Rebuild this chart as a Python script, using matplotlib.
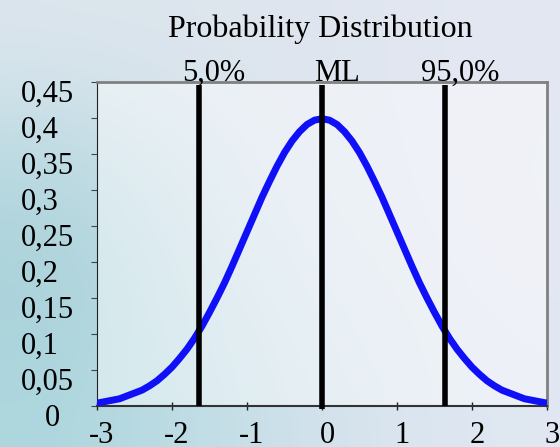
import numpy as np
import matplotlib.pyplot as plt
from matplotlib.transforms import ScaledTranslation

plt.rcParams['font.family'] = ['Liberation Serif', 'DejaVu Serif']

# values
x_vals = [-3.0, -2.9, -2.8, -2.7, -2.6, -2.5, -2.4, -2.3, -2.2, -2.1, -2.0, -1.9, -1.8, -1.7, -1.6,
          -1.5, -1.4, -1.3, -1.2, -1.1, -1.0, -0.9, -0.8, -0.7, -0.6, -0.5, -0.4, -0.3, -0.2, -0.1,
          0.0, 0.1, 0.2, 0.3, 0.4, 0.5, 0.6, 0.7, 0.8, 0.9, 1.0, 1.1, 1.2, 1.3, 1.4,
          1.5, 1.6, 1.7, 1.8, 1.9, 2.0, 2.1, 2.2, 2.3, 2.4, 2.5, 2.6, 2.7, 2.8, 2.9, 3.0]
y_vals = [0.004, 0.006, 0.008, 0.010, 0.014, 0.018, 0.022, 0.028, 0.035, 0.044, 0.054, 0.066, 0.079, 0.094, 0.111,
          0.130, 0.150, 0.171, 0.194, 0.218, 0.242, 0.266, 0.290, 0.312, 0.333, 0.352, 0.368, 0.381, 0.391, 0.397,
          0.399, 0.397, 0.391, 0.381, 0.368, 0.352, 0.333, 0.312, 0.290, 0.266, 0.242, 0.218, 0.194, 0.171, 0.150,
          0.130, 0.111, 0.094, 0.079, 0.066, 0.054, 0.044, 0.035, 0.028, 0.022, 0.018, 0.014, 0.010, 0.008, 0.006, 0.004]
marker_x = [-1.645, 0.0, 1.645]
marker_labels = ['5,0%', 'ML', '95,0%']
x_ticks = [-3, -2, -1, 0, 1, 2, 3]
x_ticklabels = ['-3', '-2', '-1', '0', '1', '2', '3']
y_ticks = [0, 0.05, 0.1, 0.15, 0.2, 0.25, 0.3, 0.35, 0.4, 0.45]
y_ticklabels = ['0', '0,05', '0,1', '0,15', '0,2', '0,25', '0,3', '0,35', '0,4', '0,45']
title = 'Probability Distribution'

fig = plt.figure(figsize=(5.6, 4.47), dpi=100)

# background wash
bg = fig.add_axes([0, 0, 1, 1])
bg_cols = np.array([
    [[0.86, 0.90, 0.93], [0.87, 0.90, 0.93], [0.88, 0.90, 0.94], [0.89, 0.91, 0.95]],
    [[0.72, 0.85, 0.88], [0.84, 0.89, 0.93], [0.88, 0.91, 0.95], [0.89, 0.91, 0.95]],
    [[0.66, 0.82, 0.85], [0.80, 0.88, 0.91], [0.87, 0.90, 0.94], [0.89, 0.91, 0.95]],
    [[0.68, 0.84, 0.87], [0.76, 0.87, 0.90], [0.84, 0.89, 0.93], [0.88, 0.91, 0.95]],
])
bg.imshow(bg_cols, aspect='auto', interpolation='bicubic', extent=[0, 1, 0, 1])
bg.set_axis_off()

ax = fig.add_axes([97 / 560, 41 / 447, 450 / 560, 324 / 447])
ax.set_facecolor((1, 1, 1, 0.45))

ax.plot(x_vals, y_vals, color='#1010f8', lw=5, solid_capstyle='butt', zorder=3)
for xm, lab in zip(marker_x, marker_labels):
    ax.vlines(xm, -0.004 if xm == 0 else 0, 0.446, color='black', lw=4, zorder=4, clip_on=False)
    ax.annotate(lab, xy=(xm, 0.45), xytext=(11, 1), textcoords='offset points',
                ha='center', va='baseline', fontsize=22)

ax.set_xlim(-3, 3)
ax.set_ylim(0, 0.45)
ax.set_xticks(x_ticks, x_ticklabels)
ax.set_yticks(y_ticks, y_ticklabels)
ax.tick_params(axis='x', direction='inout', length=6, width=1, pad=8, labelsize=22, colors='#222222')
ax.tick_params(axis='y', direction='out', length=4, width=0.8, pad=51, labelsize=22, colors='#444444')
for lab in ax.get_yticklabels():
    lab.set_horizontalalignment('left')
    lab.set_color('black')
    dx = 24 / 100 if lab.get_text() == '0' else 0
    lab.set_transform(lab.get_transform() + ScaledTranslation(dx, -9 / 100, fig.dpi_scale_trans))
for lab in ax.get_xticklabels():
    lab.set_color('black')
    lab.set_transform(lab.get_transform() + ScaledTranslation(5 / 100, 0, fig.dpi_scale_trans))

ax.spines['left'].set_color('#222222')
ax.spines['bottom'].set_color('#333333')
ax.spines['bottom'].set_linewidth(1.5)
ax.spines['top'].set_color('#808080')
ax.spines['right'].set_color('#808080')
ax.spines['top'].set_linewidth(2)
ax.spines['right'].set_linewidth(2)

fig.text(320 / 560, 1 - 37 / 447, title, ha='center', va='baseline', fontsize=23)

fig.savefig('out.png', dpi=100)
